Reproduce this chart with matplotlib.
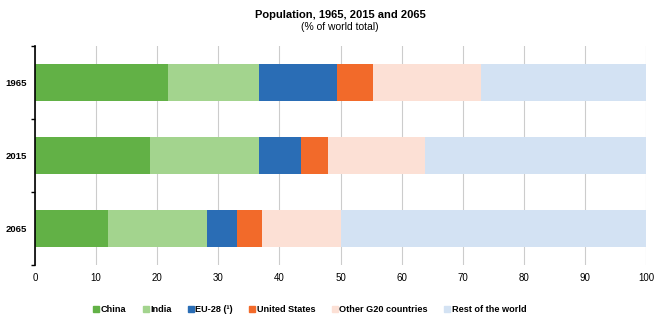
import matplotlib
matplotlib.use("Agg")
import matplotlib.pyplot as plt
from matplotlib.lines import Line2D
import numpy as np

plt.rcParams['font.family'] = ['Liberation Sans', 'DejaVu Sans']

years = ["1965", "2015", "2065"]
series = ["China", "India", "EU-28 (¹)", "United States", "Other G20 countries", "Rest of the world"]
china = [21.7, 18.9, 11.9]
india = [14.9, 17.8, 16.3]
eu28 = [12.8, 6.8, 4.9]
usa = [6.0, 4.5, 4.0]
other_g20 = [17.6, 15.9, 12.9]
rest = [27.0, 36.1, 50.0]
colors = ["#62b146", "#a3d48e", "#2a6db5", "#f26a2a", "#fce0d5", "#d3e2f3"]

data = [china, india, eu28, usa, other_g20, rest]

fig = plt.figure(figsize=(6.58, 3.22), dpi=100)
ax = fig.add_axes([35/658, 1-265/322, (646-35)/658, (265-46)/322])

y = np.arange(len(years))
left = np.zeros(len(years))
for vals, c, name in zip(data, colors, series):
    ax.barh(y, vals, left=left, height=0.5, color=c, label=name, zorder=3)
    left += np.array(vals)

ax.set_xlim(0, 100)
ax.set_ylim(2.5, -0.5)
ax.set_xticks(np.arange(0, 101, 10))
ax.set_yticks(y)
ax.set_yticklabels(years, fontweight='bold', fontsize=6.8)
ax.set_yticks([-0.5, 0.5, 1.5, 2.5], minor=True)
ax.tick_params(axis='y', which='major', length=0, pad=6)
ax.tick_params(axis='y', which='minor', length=3, width=1, color='black')
ax.tick_params(axis='x', length=0, labelsize=7, pad=6)
ax.grid(axis='x', color='#cccccc', linewidth=0.8, zorder=0)
for s in ['top', 'right', 'bottom']:
    ax.spines[s].set_visible(False)
ax.spines['left'].set_linewidth(1.2)
ax.spines['left'].set_zorder(5)

fig.text(340/658, 1-15/322, "Population, 1965, 2015 and 2065", ha='center', va='center',
         fontsize=8, fontweight='bold')
fig.text(340/658, 1-27/322, "(% of world total)", ha='center', va='center', fontsize=7.5)

handles = [Line2D([0], [0], marker='s', linestyle='none', markersize=4.5,
                  markerfacecolor=c, markeredgecolor=c) for c in colors]
fig.legend(handles, series, loc='center', bbox_to_anchor=(309/658, 1-310/322), ncol=6,
           frameon=False, prop={'weight': 'bold', 'size': 6.6}, handletextpad=0.0,
           columnspacing=1.6, handlelength=1.0)

fig.savefig("out.png", dpi=100)
